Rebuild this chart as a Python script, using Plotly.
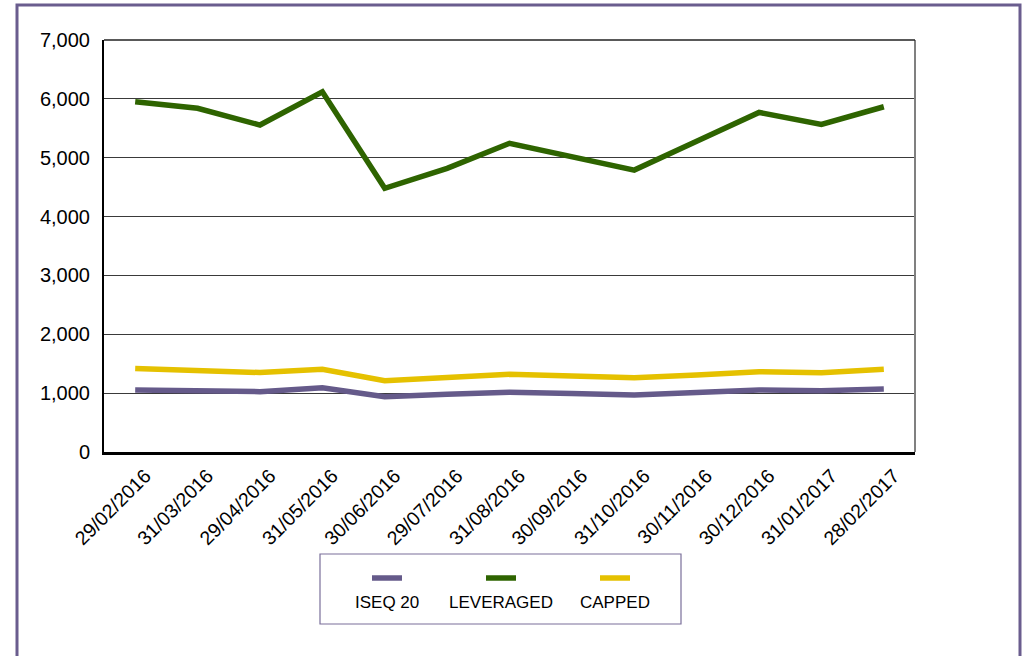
import plotly.graph_objects as go

dates = ["29/02/2016", "31/03/2016", "29/04/2016", "31/05/2016", "30/06/2016",
         "29/07/2016", "31/08/2016", "30/09/2016", "31/10/2016", "30/11/2016",
         "30/12/2016", "31/01/2017", "28/02/2017"]
iseq20 = [1053, 1045, 1025, 1090, 940, 980, 1015, 995, 968, 1010, 1053, 1040, 1070]
leveraged = [5950, 5840, 5555, 6120, 4480, 4820, 5245, 5020, 4790, 5280, 5770, 5565, 5866]
capped = [1420, 1385, 1350, 1405, 1210, 1265, 1320, 1290, 1260, 1310, 1365, 1345, 1405]

series_names = ["ISEQ 20", "LEVERAGED", "CAPPED"]
series_values = [iseq20, leveraged, capped]
colors = ["#655A8A", "#2E6400", "#E5C100"]

W, H = 1022, 656
# plot area in window pixels: x 104..915, y 40..452
L, T = 104, 40
R = W - 915
B = H - 452
pw, ph = W - L - R, H - T - B

def px(x):
    return (x - L) / pw

def py(y):
    return (H - B - y) / ph

fig = go.Figure()
for name, vals, col in zip(series_names, series_values, colors):
    fig.add_trace(go.Scatter(
        x=dates, y=vals, mode="lines", name=name,
        line=dict(color=col, width=5.5),
        showlegend=False,
    ))

font = "Liberation Sans, Arial, sans-serif"

fig.update_layout(
    width=W, height=H,
    margin=dict(l=L, r=R, t=T, b=B),
    paper_bgcolor="white", plot_bgcolor="white",
    font=dict(family=font, color="black"),
    xaxis=dict(
        type="category", range=[-0.5, len(dates) - 0.5],
        showline=True, linecolor="black", linewidth=2.5,
        showgrid=False, tickangle=-45, ticks="",
        tickfont=dict(size=19.5, family=font, color="black"),
        ticklabelstandoff=2, ticklabelshift=10,
    ),
    yaxis=dict(
        range=[0, 7000], dtick=1000, tickformat=",",
        showline=True, linecolor="black", linewidth=2,
        showgrid=True, gridcolor="#3a3a3a", gridwidth=1,
        zeroline=False, ticks="",
        tickfont=dict(size=20, family=font, color="black"),
        ticklabelstandoff=8,
    ),
)

# right plot frame edge
fig.add_shape(type="line", xref="paper", yref="paper", x0=1, x1=1, y0=0, y1=1,
              line=dict(color="#808080", width=2))
fig.add_shape(type="line", xref="paper", yref="paper", x0=0, x1=1, y0=1, y1=1,
              line=dict(color="#222222", width=1.5))

# outer purple frame
fig.add_shape(type="rect", xref="paper", yref="paper",
              x0=px(17), x1=px(1020), y0=py(5), y1=py(720),
              line=dict(color="#6A5D8E", width=3), layer="below")

# custom legend
fig.add_shape(type="rect", xref="paper", yref="paper",
              x0=px(320), x1=px(681), y0=py(554), y1=py(624),
              line=dict(color="#7A6F9A", width=1.2))
centers = [387, 501, 615]
for name, col, cx in zip(series_names, colors, centers):
    fig.add_shape(type="line", xref="paper", yref="paper",
                  x0=px(cx - 15), x1=px(cx + 15), y0=py(578), y1=py(578),
                  line=dict(color=col, width=5.5))
    fig.add_annotation(xref="paper", yref="paper", x=px(cx), y=py(602),
                       text=name, showarrow=False, xanchor="center", yanchor="middle",
                       font=dict(size=17, family=font, color="black"))

fig.write_html("out.html", config={"displayModeBar": False},
               post_script="document.body.style.margin='0';document.body.style.overflow='hidden';")
